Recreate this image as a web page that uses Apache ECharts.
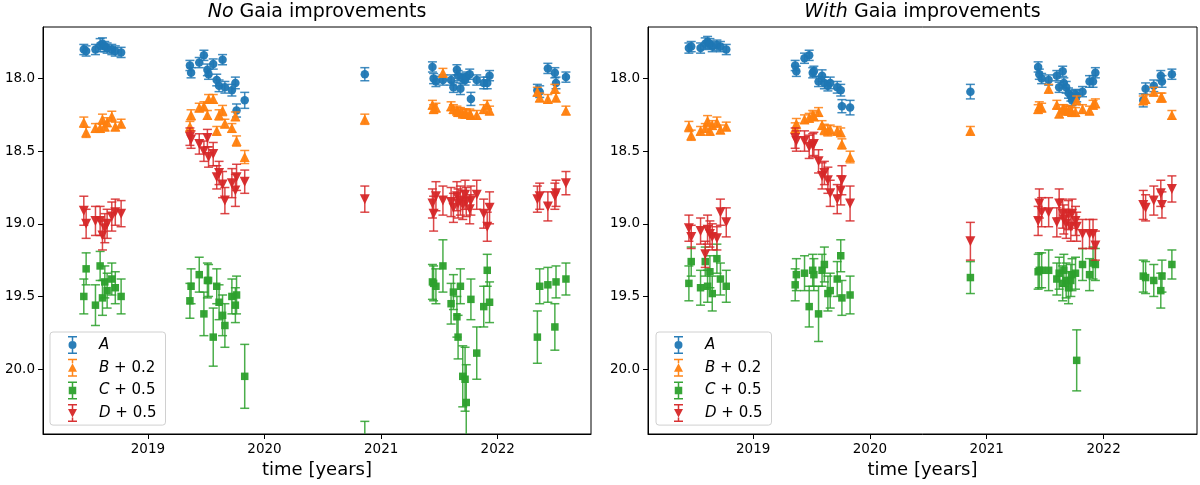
<!DOCTYPE html>
<html>
<head>
<meta charset="utf-8">
<script src="https://cdn.jsdelivr.net/npm/echarts@6/dist/echarts.min.js"></script>
<style>
html,body{margin:0;padding:0;background:#fff;}
#chart{width:1200px;height:485px;}
</style>
</head>
<body>
<div id="chart"></div>
<script>
// ---------- DATA ----------
const epochs = [
  2018.45, 2018.47, 2018.55, 2018.59, 2018.61, 2018.63, 2018.65, 2018.69, 2018.72, 2018.77,
  2019.36, 2019.37, 2019.44, 2019.48, 2019.51, 2019.52, 2019.56, 2019.59, 2019.61, 2019.64, 2019.66, 2019.72, 2019.75, 2019.76, 2019.83,
  2020.86,
  2021.44, 2021.45, 2021.47, 2021.53, 2021.60, 2021.62, 2021.65, 2021.66, 2021.68, 2021.70, 2021.72, 2021.73, 2021.76, 2021.77, 2021.82, 2021.88, 2021.91, 2021.93,
  2022.34, 2022.36, 2022.43, 2022.49, 2022.50, 2022.585
];
const xTicks = [2019, 2020, 2021, 2022];
const yTicks = [18.0, 18.5, 19.0, 19.5, 20.0];
const panelTitles = ["No Gaia improvements", "With Gaia improvements"];
const seriesNames = ["A", "B + 0.2", "C + 0.5", "D + 0.5"];

// Panel 1: No Gaia improvements (plotted magnitudes, offsets already applied)
const noGaia_A = [17.80, 17.81, 17.80, 17.77, 17.76, 17.78, 17.79, 17.80, 17.81, 17.82,
  17.91, 17.96, 17.89, 17.84, 17.94, 17.97, 17.90, 18.01, 18.05, 17.87, 18.06, 18.08, 18.03, 18.22, 18.15,
  17.97,
  17.92, 18.00, 18.02, 18.01, 18.01, 18.06, 17.94, 17.98, 18.07, 18.00, 18.01, 17.99, 17.97, 18.14, 18.01, 18.03, 18.03, 17.98,
  18.08, 18.09, 17.93, 17.96, 18.03, 17.99];
const noGaia_B = [18.30, 18.37, 18.34, 18.34, 18.28, 18.33, 18.30, 18.26, 18.33, 18.31,
  18.33, 18.25, 18.20, 18.19, 18.25, 18.14, 18.14, 18.36, 18.25, 18.22, 18.31, 18.34, 18.26, 18.43, 18.54,
  18.28,
  18.18, 18.21, 18.20, 17.96, 18.19, 18.21, 18.22, 18.23, 18.23, 18.24, 18.24, 18.24, 18.24, 18.25, 18.25, 18.21, 18.18, 18.22,
  18.09, 18.13, 18.14, 18.07, 18.13, 18.22];
const noGaia_C = [19.50, 19.31, 19.56, 19.29, 19.51, 19.40, 19.46, 19.38, 19.44, 19.50,
  19.53, 19.43, 19.35, 19.62, 19.39, 19.39, 19.78, 19.43, 19.54, 19.63, 19.70, 19.50, 19.56, 19.49, 20.05,
  20.52,
  19.40, 19.41, 19.43, 19.29, 19.55, 19.47, 19.64, 19.78, 19.43, 20.05, 20.07, 20.23, null, 19.52, 19.89, 19.57, 19.32, 19.54,
  19.78, 19.43, 19.42, 19.71, 19.40, 19.38];
const noGaia_D = [18.91, 19.00, 18.98, 18.98, 19.08, 19.03, 19.00, 18.95, 18.92, 18.93,
  18.40, 18.42, 18.45, 18.50, 18.41, 18.54, 18.52, 18.68, 18.65, 18.73, 18.84, 18.72, 18.77, 18.68, 18.71,
  18.83,
  18.86, 18.93, 18.81, 18.84, 18.85, 18.89, 18.81, 18.86, 18.84, 18.87, 18.80, 18.85, 18.90, 18.84, 18.80, 18.93, 19.02, 18.89,
  18.83, 18.81, 18.88, 18.81, 18.79, 18.72];
const noGaia_errA = [0.035, 0.035, 0.035, 0.045, 0.04, 0.035, 0.035, 0.035, 0.035, 0.035,
  0.035, 0.035, 0.035, 0.035, 0.04, 0.035, 0.035, 0.04, 0.04, 0.035, 0.04, 0.04, 0.04, 0.045, 0.055,
  0.045,
  0.035, 0.035, 0.035, 0.035, 0.035, 0.035, 0.035, 0.035, 0.04, 0.035, 0.035, 0.035, 0.035, 0.045, 0.035, 0.04, 0.04, 0.035,
  0.04, 0.04, 0.035, 0.035, 0.04, 0.035];
const noGaia_errB = [0.035, 0.035, 0.03, 0.03, 0.035, 0.03, 0.03, 0.035, 0.03, 0.03,
  0.035, 0.035, 0.03, 0.03, 0.03, 0.03, 0.03, 0.03, 0.035, 0.035, 0.03, 0.03, 0.03, 0.035, 0.045,
  0.035,
  0.03, 0.03, 0.03, 0.03, 0.03, 0.03, 0.03, 0.03, 0.03, 0.03, 0.03, 0.03, 0.03, 0.03, 0.03, 0.03, 0.03, 0.03,
  0.03, 0.03, 0.03, 0.03, 0.03, 0.03];
const noGaia_errC = [0.12, 0.11, 0.14, 0.10, 0.12, 0.11, 0.12, 0.11, 0.11, 0.12,
  0.12, 0.12, 0.12, 0.15, 0.12, 0.11, 0.20, 0.12, 0.12, 0.14, 0.15, 0.12, 0.12, 0.13, 0.22,
  0.16,
  0.12, 0.12, 0.12, 0.18, 0.14, 0.12, 0.14, 0.15, 0.12, 0.21, 0.22, 0.26, null, 0.14, 0.18, 0.14, 0.11, 0.14,
  0.18, 0.12, 0.12, 0.16, 0.11, 0.11];
const noGaia_errD = [0.10, 0.10, 0.10, 0.10, 0.10, 0.10, 0.10, 0.10, 0.09, 0.09,
  0.06, 0.06, 0.07, 0.07, 0.06, 0.07, 0.08, 0.08, 0.08, 0.09, 0.09, 0.10, 0.11, 0.09, 0.08,
  0.09,
  0.10, 0.12, 0.10, 0.10, 0.10, 0.10, 0.10, 0.10, 0.10, 0.10, 0.10, 0.10, 0.10, 0.10, 0.10, 0.10, 0.10, 0.11,
  0.09, 0.09, 0.10, 0.09, 0.09, 0.08];

// Panel 2: With Gaia improvements
const withGaia_A = [17.79, 17.78, 17.79, 17.76, 17.75, 17.76, 17.78, 17.77, 17.78, 17.80,
  17.91, 17.95, 17.86, 17.84, 17.96, 17.95, 18.02, 17.98, 18.03, 18.05, 18.03, 18.06, 18.08, 18.19, 18.20,
  18.09,
  17.92, 17.97, 18.00, 18.01, 17.98, 18.06, 17.95, 18.03, 18.06, 18.10, 18.12, 18.15, 18.11, 18.12, 18.09, 18.02, 18.02, 17.96,
  18.15, 18.07, 18.05, 17.98, 18.02, 17.97];
const withGaia_B = [18.33, 18.39, 18.36, 18.34, 18.29, 18.36, 18.32, 18.30, 18.35, 18.33,
  18.34, 18.31, 18.28, 18.27, 18.25, 18.26, 18.23, 18.32, 18.35, 18.36, 18.35, 18.36, 18.37, 18.45, 18.54,
  18.36,
  18.21, 18.19, 18.20, 18.07, 18.18, 18.24, 18.21, 18.21, 18.22, 18.22, 18.22, 18.23, 18.23, 18.15, 18.21, 18.22, 18.18, 18.17,
  18.15, 18.14, 18.09, 18.13, 18.13, 18.25];
const withGaia_C = [19.41, 19.26, 19.44, 19.26, 19.43, 19.33, 19.48, 19.24, 19.38, 19.43,
  19.42, 19.35, 19.34, 19.57, 19.32, 19.35, 19.62, 19.32, 19.28, 19.48, 19.46, 19.38, 19.22, 19.51, 19.49,
  19.37,
  19.33, 19.32, 19.32, 19.32, 19.38, 19.34, 19.41, 19.32, 19.39, 19.44, 19.39, 19.35, 19.34, 19.94, 19.28, 19.35, 19.27, 19.28,
  19.36, 19.37, 19.39, 19.46, 19.36, 19.28];
const withGaia_D = [19.03, 19.09, 19.05, 19.21, 19.04, 19.07, 19.09, 19.10, 18.92, 18.99,
  18.41, 18.43, 18.43, 18.47, 18.46, 18.45, 18.57, 18.67, 18.65, 18.70, 18.79, 18.83, 18.77, 18.70, 18.86,
  19.12,
  18.98, 18.86, 18.92, 18.92, 18.99, 18.86, 18.93, 18.97, 19.00, 18.94, 19.02, 18.93, 18.98, 19.02, 19.07, 19.07, 19.07, 19.15,
  18.87, 18.89, 18.84, 18.79, 18.87, 18.76];
const withGaia_errA = [0.035, 0.035, 0.035, 0.04, 0.04, 0.035, 0.035, 0.035, 0.035, 0.035,
  0.035, 0.035, 0.035, 0.035, 0.035, 0.035, 0.035, 0.04, 0.04, 0.035, 0.04, 0.04, 0.04, 0.045, 0.05,
  0.05,
  0.035, 0.035, 0.035, 0.035, 0.035, 0.035, 0.035, 0.035, 0.04, 0.035, 0.035, 0.035, 0.035, 0.04, 0.035, 0.04, 0.04, 0.035,
  0.045, 0.04, 0.04, 0.035, 0.04, 0.035];
const withGaia_errB = [0.035, 0.035, 0.03, 0.03, 0.035, 0.03, 0.03, 0.035, 0.03, 0.03,
  0.035, 0.035, 0.03, 0.03, 0.03, 0.03, 0.03, 0.03, 0.035, 0.035, 0.03, 0.03, 0.03, 0.035, 0.04,
  0.03,
  0.03, 0.03, 0.03, 0.03, 0.03, 0.03, 0.03, 0.03, 0.03, 0.03, 0.03, 0.03, 0.03, 0.03, 0.03, 0.03, 0.03, 0.03,
  0.03, 0.03, 0.03, 0.03, 0.03, 0.03];
const withGaia_errC = [0.12, 0.10, 0.12, 0.10, 0.11, 0.11, 0.12, 0.10, 0.11, 0.11,
  0.11, 0.11, 0.12, 0.14, 0.11, 0.11, 0.19, 0.11, 0.12, 0.12, 0.12, 0.12, 0.11, 0.12, 0.13,
  0.11,
  0.12, 0.12, 0.12, 0.14, 0.11, 0.11, 0.12, 0.11, 0.12, 0.11, 0.11, 0.11, 0.11, 0.21, 0.11, 0.11, 0.11, 0.11,
  0.11, 0.11, 0.11, 0.12, 0.11, 0.10];
const withGaia_errD = [0.09, 0.08, 0.09, 0.09, 0.10, 0.09, 0.09, 0.08, 0.09, 0.10,
  0.07, 0.07, 0.07, 0.08, 0.08, 0.08, 0.08, 0.09, 0.08, 0.09, 0.09, 0.10, 0.10, 0.10, 0.12,
  0.13,
  0.10, 0.10, 0.10, 0.10, 0.10, 0.10, 0.10, 0.10, 0.10, 0.10, 0.10, 0.10, 0.10, 0.10, 0.10, 0.10, 0.10, 0.10,
  0.10, 0.09, 0.10, 0.09, 0.09, 0.09];

// ---------- STYLE ----------
const FONT = "DejaVu Sans";
const colors = ["#1f77b4", "#ff7f0e", "#2ca02c", "#d62728"];
const symbols = ["circle", "triangle", "rect", "triangle"];
const symbolRot = [0, 0, 0, 180];
const symbolSizes = [8.5, 10, 7.5, 10];
// legend icons: error bar + marker (filled path)
const capTop = "M0 0 L9 0 L9 1.5 L0 1.5 Z ";
const capBot = "M0 16.5 L9 16.5 L9 18 L0 18 Z ";
function stem(y1, y2) { return "M3.75 " + y1 + " L5.25 " + y1 + " L5.25 " + y2 + " L3.75 " + y2 + " Z "; }
const legendIcons = [
  "path://" + capTop + capBot + stem(1.5, 5) + stem(13, 16.5) + "M0.5 9 A4 4 0 1 1 8.5 9 A4 4 0 1 1 0.5 9 Z",
  "path://" + capTop + capBot + stem(1.5, 4.5) + stem(13, 16.5) + "M4.5 4.5 L9 13 L0 13 Z",
  "path://" + capTop + capBot + stem(1.5, 5.25) + stem(12.75, 16.5) + "M0.75 5.25 L8.25 5.25 L8.25 12.75 L0.75 12.75 Z",
  "path://" + capTop + capBot + stem(1.5, 5) + stem(13.5, 16.5) + "M0 5 L9 5 L4.5 13.5 Z"
];
const legendRich = {
  "A": "{i|A}",
  "B + 0.2": "{i|B}{n| + 0.2}",
  "C + 0.5": "{i|C}{n| + 0.5}",
  "D + 0.5": "{i|D}{n| + 0.5}"
};

const panels = [
  { vals: [noGaia_A, noGaia_B, noGaia_C, noGaia_D], errs: [noGaia_errA, noGaia_errB, noGaia_errC, noGaia_errD] },
  { vals: [withGaia_A, withGaia_B, withGaia_C, withGaia_D], errs: [withGaia_errA, withGaia_errB, withGaia_errC, withGaia_errD] }
];

const gridBoxes = [
  { left: 43, top: 27, width: 548, height: 407 },
  { left: 648, top: 27, width: 549, height: 407 }
];

function renderErr(params, api) {
  const x = api.value(0), y = api.value(1), e = api.value(2);
  const p1 = api.coord([x, y - e]);
  const p2 = api.coord([x, y + e]);
  const cw = 4.5;
  const st = { stroke: api.visual('color'), lineWidth: 1.5, opacity: 0.85 };
  return {
    type: 'group',
    children: [
      { type: 'line', shape: { x1: p1[0], y1: p1[1], x2: p2[0], y2: p2[1] }, style: st },
      { type: 'line', shape: { x1: p1[0] - cw, y1: p1[1], x2: p1[0] + cw, y2: p1[1] }, style: st },
      { type: 'line', shape: { x1: p2[0] - cw, y1: p2[1], x2: p2[0] + cw, y2: p2[1] }, style: st }
    ]
  };
}

const series = [];
panels.forEach((p, pi) => {
  for (let s = 0; s < 4; s++) {
    const errData = [], ptData = [];
    epochs.forEach((t, i) => {
      const v = p.vals[s][i];
      if (v === null || v === undefined) return;
      errData.push([t, v, p.errs[s][i]]);
      ptData.push([t, v]);
    });
    series.push({
      type: 'scatter', name: seriesNames[s], xAxisIndex: pi, yAxisIndex: pi,
      data: ptData, symbol: symbols[s], symbolRotate: symbolRot[s], symbolSize: symbolSizes[s],
      itemStyle: { color: colors[s], opacity: 0.95 }, z: 3 + s * 2, silent: true, clip: true
    });
    series.push({
      type: 'custom', name: seriesNames[s], xAxisIndex: pi, yAxisIndex: pi,
      data: errData, renderItem: renderErr, clip: true,
      itemStyle: { color: colors[s] }, z: 2 + s * 2, silent: true,
      encode: { x: 0, y: 1 }
    });
  }
});

const option = {
  backgroundColor: '#ffffff',
  animation: false,
  textStyle: { fontFamily: FONT },
  title: panelTitles.map((t, i) => {
    const parts = t.split(' ');
    return {
      text: '{i|' + parts[0] + '} ' + parts.slice(1).join(' '),
      left: gridBoxes[i].left + gridBoxes[i].width / 2,
      textAlign: 'center',
      top: 3,
      padding: 0,
      textStyle: {
        fontFamily: FONT, fontSize: 19, fontWeight: 'normal', color: '#000',
        rich: { i: { fontFamily: FONT, fontSize: 19, fontStyle: 'italic', color: '#000' } }
      }
    };
  }),
  grid: gridBoxes.map(g => Object.assign({ show: true, borderColor: '#000', borderWidth: 1, backgroundColor: 'transparent' }, g)),
  xAxis: gridBoxes.map((g, i) => ({
    type: 'value', gridIndex: i, min: 2018.10, max: 2022.80,
    name: 'time [years]', nameLocation: 'middle', nameGap: 27,
    nameTextStyle: { fontFamily: FONT, fontSize: 18, color: '#000' },
    axisLine: { show: true, lineStyle: { color: '#000', width: 1 } },
    axisTick: { show: true, customValues: xTicks, length: 5, lineStyle: { color: '#000' } },
    axisLabel: { customValues: xTicks, fontFamily: FONT, fontSize: 13.5, color: '#000', margin: 8, formatter: v => String(v) },
    splitLine: { show: false }
  })),
  yAxis: gridBoxes.map((g, i) => ({
    type: 'value', gridIndex: i, inverse: true, min: 17.645, max: 20.447,
    axisLine: { show: true, lineStyle: { color: '#000', width: 1 } },
    axisTick: { show: true, customValues: yTicks, length: 5, lineStyle: { color: '#000' } },
    axisLabel: { customValues: yTicks, fontFamily: FONT, fontSize: 13.5, color: '#000', margin: 8, formatter: v => v.toFixed(1) },
    splitLine: { show: false }
  })),
  legend: [
    { left: 50, top: 332 },
    { left: 656, top: 332 }
  ].map(pos => ({
    left: pos.left, top: pos.top, orient: 'vertical',
    data: seriesNames.map((n, k) => ({ name: n, icon: legendIcons[k] })),
    itemWidth: 9, itemHeight: 18, itemGap: 4.7,
    padding: [4, 9, 3, 18],
    borderColor: '#d0d0d0', borderWidth: 1, borderRadius: 3,
    backgroundColor: 'rgba(255,255,255,0.8)',
    selectedMode: false,
    formatter: n => legendRich[n],
    textStyle: {
      fontFamily: FONT, fontSize: 15, color: '#000',
      rich: {
        i: { fontFamily: FONT, fontSize: 15, fontStyle: 'italic', color: '#000', padding: [0, 0, 0, 17], lineHeight: 18 },
        n: { fontFamily: FONT, fontSize: 15, color: '#000', lineHeight: 18 }
      }
    }
  })),
  series: series
};

const chart = echarts.init(document.getElementById('chart'), null, { renderer: 'canvas' });
chart.setOption(option);
</script>
</body>
</html>
